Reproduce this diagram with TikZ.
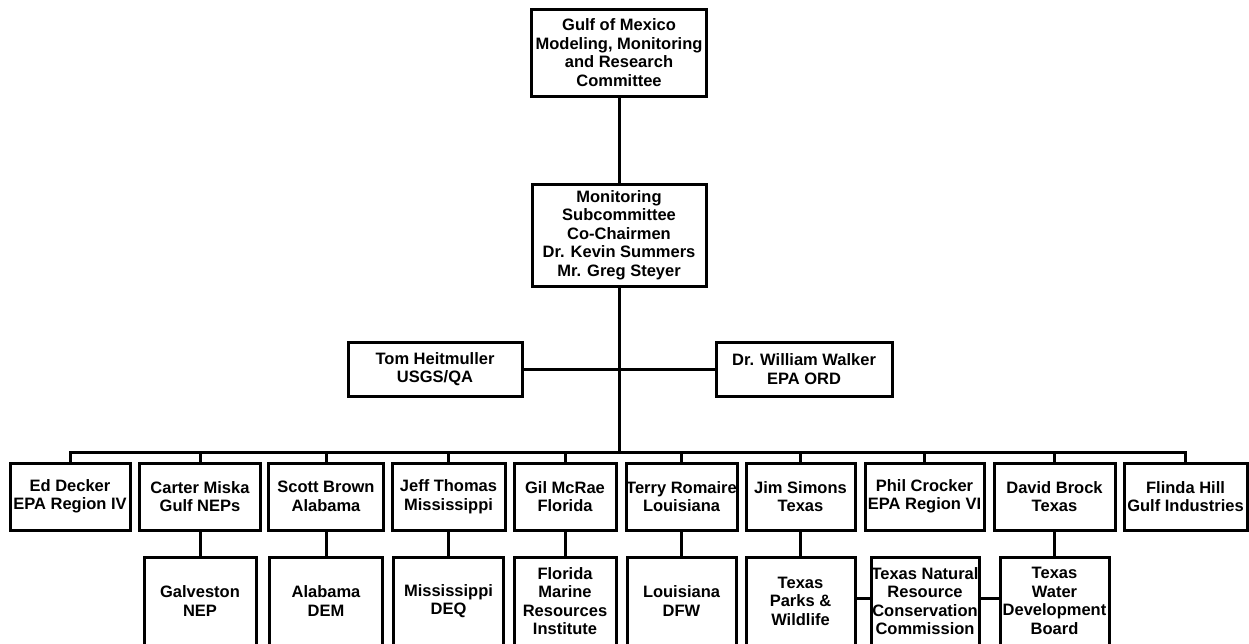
\documentclass[tikz,border=0pt]{standalone}
\usepackage{fontspec}
\setmainfont{Liberation Sans}
\begin{document}
\begin{tikzpicture}[x=1pt,y=-1pt,
  box/.style={draw=black, line width=3pt, align=center, inner sep=0pt,
    font=\bfseries\fontsize{16.5}{18.5}\selectfont},
  link/.style={draw=black, line width=3pt}]
\useasboundingbox[fill=white] (0,0) rectangle (1249,643);
\begin{scope}
\clip (0,0) rectangle (1249,643);
% top levels
\node[box, minimum width=175, minimum height=87] (gulf) at (619,52.5) {Gulf of Mexico\\Modeling, Monitoring\\and Research\\Committee};
\node[box, minimum width=174, minimum height=102] (sub) at (619,235) {Monitoring\\Subcommittee\\Co-Chairmen\\Dr. Kevin Summers\\Mr. Greg Steyer};
\node[box, minimum width=174, minimum height=54] (tom) at (435,369) {Tom Heitmuller\\USGS/QA};
\node[box, minimum width=176, minimum height=54] (walker) at (804,369) {Dr. William Walker\\EPA ORD};
% row 1
\node[box, minimum width=120, minimum height=67] (ed) at (70,496.5) {Ed Decker\\EPA Region IV};
\node[box, minimum width=121, minimum height=67] (carter) at (200,496.5) {Carter Miska\\Gulf NEPs};
\node[box, minimum width=115, minimum height=67] (scott) at (326,496.5) {Scott Brown\\Alabama};
\node[box, minimum width=113, minimum height=67] (jeff) at (448.5,496.5) {Jeff Thomas\\Mississippi};
\node[box, minimum width=102, minimum height=67] (gil) at (565,496.5) {Gil McRae\\Florida};
\node[box, minimum width=111, minimum height=67] (terry) at (681.5,496.5) {Terry Romaire\\Louisiana};
\node[box, minimum width=109, minimum height=67] (jim) at (800.5,496.5) {Jim Simons\\Texas};
\node[box, minimum width=119, minimum height=67] (phil) at (924.5,496.5) {Phil Crocker\\EPA Region VI};
\node[box, minimum width=121, minimum height=67] (david) at (1054.5,496.5) {David Brock\\Texas};
\node[box, minimum width=123, minimum height=67] (flinda) at (1185.5,496.5) {Flinda Hill\\Gulf Industries};
% row 2
\node[box, minimum width=112, minimum height=88] (galv) at (200,601) {Galveston\\NEP};
\node[box, minimum width=113, minimum height=88] (aldem) at (326,601) {Alabama\\DEM};
\node[box, minimum width=110, minimum height=88] (msdeq) at (448.5,601) {Mississippi\\DEQ};
\node[box, minimum width=102, minimum height=88] (fmri) at (565,601) {Florida\\Marine\\Resources\\Institute};
\node[box, minimum width=109, minimum height=88] (ladfw) at (681.5,601) {Louisiana\\DFW};
\node[box, minimum width=109, minimum height=88] (tpw) at (800.5,601) {Texas\\Parks \&\\Wildlife};
\node[box, minimum width=108, minimum height=88] (tnrcc) at (925,601) {Texas Natural\\Resource\\Conservation\\Commission};
\node[box, minimum width=109, minimum height=88] (twdb) at (1054.5,601) {Texas\\Water\\Development\\Board};
% connectors
\coordinate (bus) at (619,452);
\draw[link] (gulf.south) -- (sub.north);
\draw[link] (sub.south) -- (bus);
\draw[link] (tom.east) -- (walker.west);
\draw[link] (ed.north) -- (ed.north |- bus) -- (flinda.north |- bus) -- (flinda.north);
\foreach \n in {carter,scott,jeff,gil,terry,jim,phil,david}
  \draw[link] (\n.north) -- (\n.north |- bus);
\draw[link] (carter.south) -- (galv.north);
\draw[link] (scott.south) -- (aldem.north);
\draw[link] (jeff.south) -- (msdeq.north);
\draw[link] (gil.south) -- (fmri.north);
\draw[link] (terry.south) -- (ladfw.north);
\draw[link] (jim.south) -- (tpw.north);
\draw[link] (david.south) -- (twdb.north);
\draw[link] (tpw.east |- 0,598) -- (tnrcc.west |- 0,598);
\draw[link] (tnrcc.east |- 0,598) -- (twdb.west |- 0,598);
\end{scope}
\end{tikzpicture}
\end{document}
